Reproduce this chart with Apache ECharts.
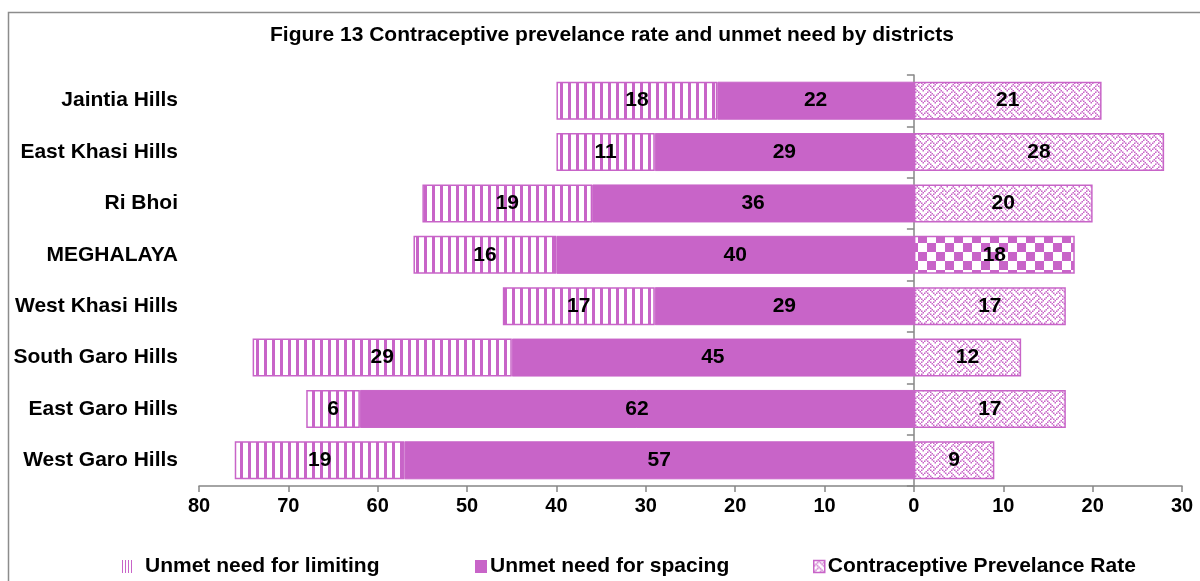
<!DOCTYPE html>
<html>
<head>
<meta charset="utf-8">
<script src="https://cdn.jsdelivr.net/npm/echarts@6/dist/echarts.min.js"></script>
<style>
  html, body { margin: 0; padding: 0; background: #fff; }
  #chart { width: 1200px; height: 581px; }
</style>
</head>
<body>
<div id="chart"></div>
<script>
// Districts, top to bottom
const categories = ['Jaintia Hills', 'East Khasi Hills', 'Ri Bhoi', 'MEGHALAYA',
  'West Khasi Hills', 'South Garo Hills', 'East Garo Hills', 'West Garo Hills'];
// Percentages per district
const unmetLimiting = [18, 11, 19, 16, 17, 29, 6, 19];
const unmetSpacing  = [22, 29, 36, 40, 29, 45, 62, 57];
const cprValues     = [21, 28, 20, 18, 17, 12, 17, 9];
// Axis range (left side shows unmet need, right side CPR)
const axisMin = -80, axisMax = 30, axisStep = 10;

const PURPLE = '#C864C8';
const FONT = 'Arial, "Liberation Sans", sans-serif';

function tile(w, h, draw) {
  const c = document.createElement('canvas');
  c.width = w; c.height = h;
  const g = c.getContext('2d');
  g.fillStyle = '#fff';
  g.fillRect(0, 0, w, h);
  g.fillStyle = PURPLE;
  draw(g);
  return { image: c, repeat: 'repeat' };
}

// vertical stripes
const stripes = tile(8, 8, g => g.fillRect(0, 0, 3, 8));
// finer stripes for the small legend swatch
const stripesSmall = tile(3, 3, g => g.fillRect(0, 0, 1, 3));
// woven hatch from an 8x8 bitmap, drawn at 1.5x
const weaveBits = [0x11, 0x2a, 0x44, 0xa2, 0x11, 0x28, 0x44, 0x8a];
const weave = tile(12, 12, g => {
  for (let y = 0; y < 8; y++) {
    for (let x = 0; x < 8; x++) {
      if (weaveBits[y] & (0x80 >> x)) g.fillRect(x * 1.5, y * 1.5, 1.5, 1.5);
    }
  }
});
// checker board for the state total
const checker = tile(18, 18, g => { g.fillRect(0, 0, 9, 9); g.fillRect(9, 9, 9, 9); });

const labelStyle = {
  show: true,
  position: 'inside',
  color: '#000',
  fontFamily: FONT,
  fontWeight: 'bold',
  fontSize: 21,
  formatter: p => Math.abs(p.value)
};

const chart = echarts.init(document.getElementById('chart'), null, { renderer: 'canvas' });

const legendText = { fontFamily: FONT, fontWeight: 'bold', fontSize: 21, color: '#000' };

chart.setOption({
  animation: false,
  title: {
    text: 'Figure 13 Contraceptive prevelance rate and unmet need by districts',
    left: 265,
    top: 20,
    textStyle: { fontFamily: FONT, fontWeight: 'bold', fontSize: 21, color: '#000' }
  },
  graphic: [{
    type: 'rect',
    shape: { x: 8.5, y: 12.5, width: 1300, height: 700 },
    style: { fill: 'none', stroke: '#8c8c8c', lineWidth: 1.5 },
    silent: true
  }],
  legend: [
    {
      data: [{ name: 'Unmet need for limiting', icon: 'rect',
        itemStyle: { color: stripesSmall, borderWidth: 0 } }],
      left: 117, top: 551, itemWidth: 12, itemHeight: 13,
      textStyle: Object.assign({ padding: [0, 0, 0, 6] }, legendText)
    },
    {
      data: [{ name: 'Unmet need for spacing', icon: 'rect',
        itemStyle: { color: PURPLE, borderWidth: 0 } }],
      left: 470, top: 551, itemWidth: 12, itemHeight: 13,
      textStyle: Object.assign({ padding: [0, 0, 0, -2] }, legendText)
    },
    {
      data: [{ name: 'Contraceptive Prevelance Rate', icon: 'rect',
        itemStyle: { color: weave, borderColor: PURPLE, borderWidth: 1.5 } }],
      left: 808, top: 551, itemWidth: 11, itemHeight: 12,
      textStyle: Object.assign({ padding: [0, 0, 0, -2] }, legendText)
    }
  ],
  grid: { left: 199, right: 18, top: 75, bottom: 95, containLabel: false },
  xAxis: {
    type: 'value',
    min: axisMin, max: axisMax, interval: axisStep,
    axisLine: { show: true, lineStyle: { color: '#868686', width: 1.5 } },
    axisTick: { show: true, length: 6, lineStyle: { color: '#868686', width: 1.5 } },
    splitLine: { show: false },
    axisLabel: {
      margin: 10,
      color: '#000', fontFamily: FONT, fontWeight: 'bold', fontSize: 20,
      formatter: v => String(Math.abs(v))
    }
  },
  yAxis: [
    {
      type: 'category',
      data: categories,
      inverse: true,
      position: 'left',
      axisLine: { show: false, onZero: false },
      axisTick: { show: false },
      axisLabel: { margin: 21, color: '#000', fontFamily: FONT, fontWeight: 'bold', fontSize: 21 }
    },
    {
      type: 'category',
      data: categories,
      inverse: true,
      position: 'left',
      axisLine: { show: true, onZero: true, lineStyle: { color: '#868686', width: 1.5 } },
      axisTick: { show: true, length: 7, lineStyle: { color: '#868686', width: 1.5 } },
      axisLabel: { show: false }
    }
  ],
  series: [
    {
      name: 'Unmet need for spacing',
      type: 'bar',
      stack: 'all',
      barWidth: 38,
      data: unmetSpacing.map(v => -v),
      itemStyle: { color: PURPLE, borderColor: PURPLE, borderWidth: 1 },
      label: labelStyle
    },
    {
      name: 'Unmet need for limiting',
      type: 'bar',
      stack: 'all',
      barWidth: 38,
      data: unmetLimiting.map(v => -v),
      itemStyle: { color: stripes, borderColor: PURPLE, borderWidth: 1.5 },
      label: labelStyle
    },
    {
      name: 'Contraceptive Prevelance Rate',
      type: 'bar',
      stack: 'all',
      barWidth: 38,
      data: cprValues.map((v, i) => categories[i] === 'MEGHALAYA'
        ? { value: v, itemStyle: { color: checker } }
        : v),
      itemStyle: { color: weave, borderColor: PURPLE, borderWidth: 1.5 },
      label: labelStyle
    }
  ]
});
</script>
</body>
</html>
